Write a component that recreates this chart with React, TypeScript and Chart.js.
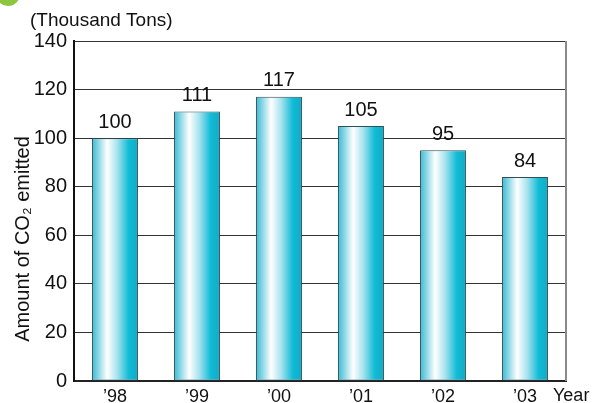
import React, { useEffect, useRef } from "react";
import { Chart, registerables } from "chart.js";

Chart.register(...registerables);

const categories = ["’98", "’99", "’00", "’01", "’02", "’03"];
const emissions = [100, 111, 117, 105, 95, 84];
const yTicks = [0, 20, 40, 60, 80, 100, 120, 140];
const unitLabel = "(Thousand Tons)";
const yTitle = "Amount of CO₂ emitted";
const xTitle = "Year";

const FONT = "'Liberation Sans', Arial, Helvetica, sans-serif";

const extrasPlugin = {
  id: "extras",
  beforeDraw(chart: any) {
    const ctx = chart.ctx;
    ctx.save();
    ctx.fillStyle = "#ffffff";
    ctx.fillRect(0, 0, chart.width, chart.height);
    ctx.fillStyle = "#8cc63f";
    ctx.beginPath();
    ctx.arc(8, -6, 12, 0, Math.PI * 2);
    ctx.fill();
    ctx.restore();
  },
  afterDatasetsDraw(chart: any) {
    const ctx = chart.ctx;
    const { chartArea } = chart;
    ctx.save();
    ctx.strokeStyle = "#8a8a8a";
    ctx.lineWidth = 2;
    ctx.beginPath();
    ctx.moveTo(chartArea.right, chartArea.top);
    ctx.lineTo(chartArea.right, chartArea.bottom);
    ctx.stroke();
    ctx.fillStyle = "#111";
    ctx.font = `20px ${FONT}`;
    ctx.textAlign = "center";
    ctx.textBaseline = "bottom";
    const meta = chart.getDatasetMeta(0);
    meta.data.forEach((bar: any, i: number) => {
      ctx.fillText(String(emissions[i]), bar.x, bar.y - 6);
    });
    ctx.textAlign = "left";
    ctx.textBaseline = "middle";
    ctx.font = `19px ${FONT}`;
    ctx.fillText(unitLabel, 30, 21);
    ctx.font = `18px ${FONT}`;
    ctx.textBaseline = "top";
    ctx.fillText(xTitle, 553, 387);
    ctx.translate(23, 239);
    ctx.rotate(-Math.PI / 2);
    ctx.textAlign = "center";
    ctx.textBaseline = "middle";
    ctx.font = `20px ${FONT}`;
    ctx.fillText(yTitle, 0, 0);
    ctx.restore();
  },
};

export default function App() {
  const ref = useRef<HTMLCanvasElement>(null);
  useEffect(() => {
    document.body.style.margin = "0";
    const canvas = ref.current!;
    const makeGradient = (context: any) => {
      const chart = context.chart;
      const area = chart.chartArea;
      const xs = chart.scales.x;
      if (!area || !xs) return "#40c0d8";
      const cx = xs.getPixelForValue(context.dataIndex);
      const w = (area.width / categories.length) * 0.56;
      const g = chart.ctx.createLinearGradient(cx - w / 2, 0, cx + w / 2, 0);
      g.addColorStop(0, "#36bad3");
      g.addColorStop(0.12, "#7fd3e3");
      g.addColorStop(0.33, "#ffffff");
      g.addColorStop(0.55, "#a6e2ee");
      g.addColorStop(0.8, "#0fbcd6");
      g.addColorStop(1, "#14aac4");
      return g;
    };
    const chart = new Chart(canvas, {
      type: "bar",
      data: {
        labels: categories,
        datasets: [
          {
            data: emissions,
            backgroundColor: makeGradient,
            borderColor: "#2e4e58",
            borderWidth: 1,
            borderSkipped: false,
            categoryPercentage: 1,
            barPercentage: 0.56,
          },
        ],
      },
      options: {
        animation: false,
        responsive: false,
        devicePixelRatio: 1,
        layout: { padding: { left: 0, right: 33, top: 41, bottom: 0 } },
        plugins: { legend: { display: false }, tooltip: { enabled: false } },
        scales: {
          x: {
            grid: { display: false, drawTicks: false },
            border: { display: true, color: "#222", width: 2 },
            ticks: { color: "#111", font: { size: 18, family: FONT }, padding: 5, maxRotation: 0 },
            afterFit(scale: any) {
              scale.height = 22;
            },
          },
          y: {
            min: 0,
            max: 140,
            afterBuildTicks(scale: any) {
              scale.ticks = yTicks.map((v) => ({ value: v }));
            },
            grid: { color: "#333", lineWidth: 1, drawTicks: false },
            border: { display: true, color: "#111", width: 2 },
            ticks: { color: "#111", font: { size: 20, family: FONT }, padding: 7 },
            afterFit(scale: any) {
              scale.width = 74;
            },
          },
        },
      },
      plugins: [extrasPlugin],
    });
    return () => chart.destroy();
  }, []);
  return <canvas ref={ref} width={599} height={403} style={{ display: "block" }} />;
}
